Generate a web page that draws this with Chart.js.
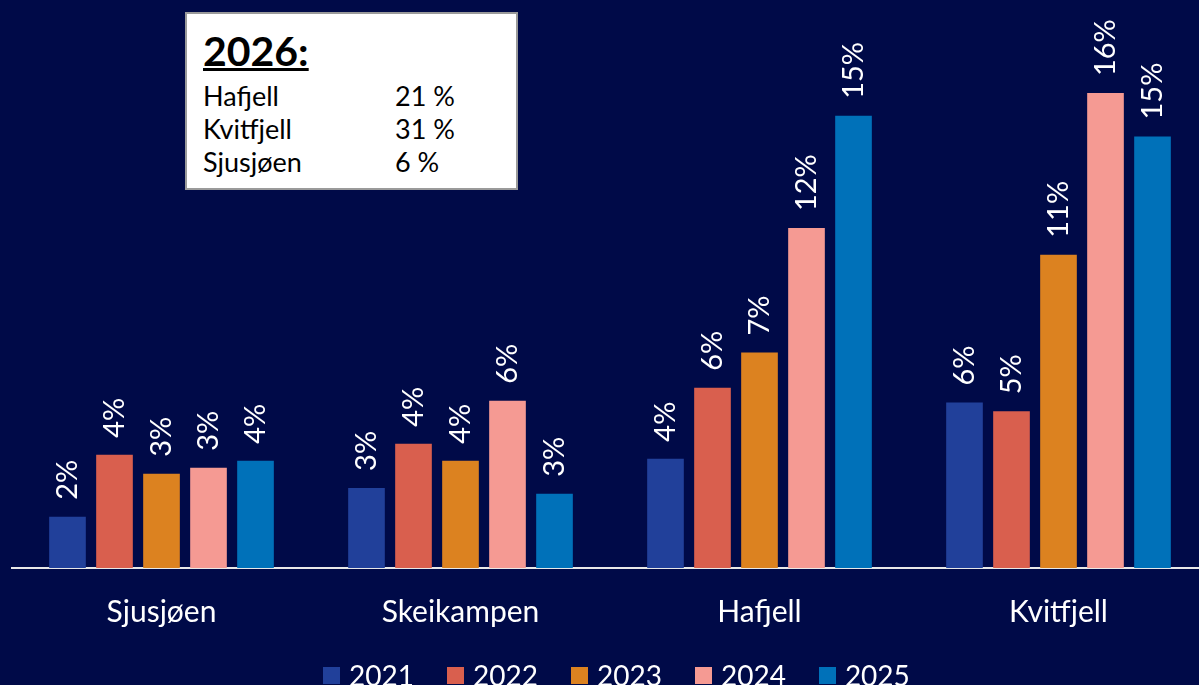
<!DOCTYPE html>
<html>
<head>
<meta charset="utf-8">
<script src="https://cdn.jsdelivr.net/npm/chart.js@4"></script>
<style>
  html, body { margin: 0; padding: 0; background: #000a48; overflow: hidden; }
  body { width: 1199px; height: 685px; position: relative; font-family: Lato, "Open Sans", sans-serif; }
  #wrap { position: absolute; left: 0; top: 0; width: 1210px; height: 685px; }
  #note {
    position: absolute; left: 185px; top: 12px; width: 329px; height: 174px;
    background: #fff; border: 2px solid #9a9a9a; color: #000;
  }
  #note h2 { margin: 0; position: absolute; left: 16px; top: 13px; font-size: 41px; line-height: 48px; font-weight: bold; text-decoration: underline; text-decoration-thickness: 3px; }
  #note .row { position: absolute; left: 16px; font-size: 27px; line-height: 32px; }
  #note .row span { position: absolute; left: 192px; white-space: nowrap; }
  #legend { position: absolute; top: 656px; left: 323px; display: flex; color: #fff; font-size: 28px; line-height: 38px; }
  #legend div { display: flex; align-items: center; margin-right: 33px; }
  #legend i { display: inline-block; width: 17px; height: 17px; margin-right: 9px; }
</style>
</head>
<body>
<div id="wrap"><canvas id="chart"></canvas></div>
<div id="note">
  <h2>2026:</h2>
  <div class="row" style="top:66px">Hafjell<span>21 %</span></div>
  <div class="row" style="top:99px">Kvitfjell<span>31 %</span></div>
  <div class="row" style="top:132px">Sjusjøen<span>6 %</span></div>
</div>
<div id="legend"></div>
<script>
const categories = ['Sjusjøen', 'Skeikampen', 'Hafjell', 'Kvitfjell'];
const years = ['2021', '2022', '2023', '2024', '2025'];
const colors = ['#21409a', '#d95f4e', '#dc8220', '#f59a93', '#0071b9'];

// values in % per year
const v2021 = [1.73, 2.71, 3.7, 5.6];
const v2022 = [3.83, 4.2, 6.1, 5.3];
const v2023 = [3.19, 3.63, 7.29, 10.6];
const v2024 = [3.39, 5.66, 11.5, 16.07];
const v2025 = [3.63, 2.51, 15.3, 14.6];
const series = [v2021, v2022, v2023, v2024, v2025];

// Rotated value labels above bars
const barLabels = {
  id: 'barLabels',
  afterDatasetsDraw(chart) {
    const ctx = chart.ctx;
    ctx.save();
    ctx.fillStyle = '#fff';
    ctx.font = '29px Lato, "Open Sans", sans-serif';
    ctx.textAlign = 'left';
    ctx.textBaseline = 'middle';
    chart.data.datasets.forEach((ds, i) => {
      chart.getDatasetMeta(i).data.forEach((bar, j) => {
        ctx.save();
        ctx.translate(bar.x, bar.y - 17);
        ctx.rotate(-Math.PI / 2);
        ctx.fillText(Math.round(ds.data[j]) + '%', 0, 0);
        ctx.restore();
      });
    });
    ctx.restore();
  }
};

// HTML legend
const legend = document.getElementById('legend');
years.forEach((y, i) => {
  const d = document.createElement('div');
  d.innerHTML = `<i style="background:${colors[i]}"></i>${y}`;
  legend.appendChild(d);
});

new Chart(document.getElementById('chart'), {
  type: 'bar',
  data: {
    labels: categories,
    datasets: years.map((y, i) => ({
      label: y,
      data: series[i],
      backgroundColor: colors[i],
      categoryPercentage: 0.786,
      barPercentage: 0.78
    }))
  },
  options: {
    responsive: true,
    maintainAspectRatio: false,
    animation: false,
    layout: { padding: { left: 12, right: 2, top: 36, bottom: 37 } },
    plugins: { legend: { display: false }, tooltip: { enabled: false } },
    scales: {
      x: {
        grid: { display: false },
        border: { color: '#e8e8e8', width: 2 },
        ticks: { color: '#fff', padding: 18, font: { family: 'Lato', size: 30 } }
      },
      y: { display: false, min: 0, max: 18 }
    }
  },
  plugins: [barLabels]
});
</script>
</body>
</html>
